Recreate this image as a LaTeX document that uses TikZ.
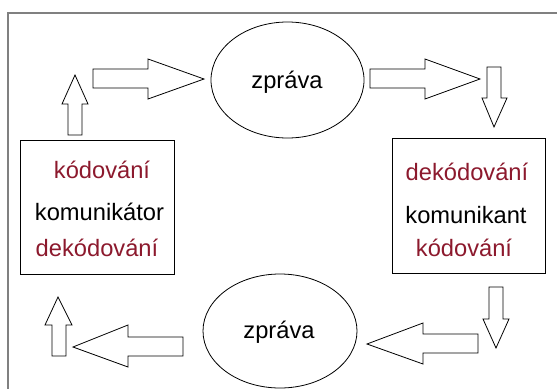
\documentclass[tikz,border=0pt]{standalone}
\usepackage{fontspec}
\setmainfont{Liberation Sans}
\usetikzlibrary{shapes.geometric}
\definecolor{kodred}{RGB}{140,25,45}
\definecolor{framegray}{RGB}{128,128,128}
\begin{document}
\begin{tikzpicture}[x=1pt,y=-1pt,
  font=\fontsize{23.7}{28}\selectfont,
  blockarrow/.style={draw=black,line width=0.8pt,fill=white,line join=miter},
  boxnode/.style={draw=black,line width=0.8pt,rectangle,inner sep=0pt},
  msgnode/.style={draw=black,line width=0.8pt,ellipse,inner sep=0pt},
  lbl/.style={anchor=base,inner sep=0pt,text depth=0pt},
  redlbl/.style={lbl,text=kodred}]
\useasboundingbox (0,0) rectangle (557,389);
\fill[white] (0,0) rectangle (557,389);
% frame
\draw[framegray,line width=1.3pt] (557,13) -- (8,13) -- (8,389);
% boxes
\node[boxnode,minimum width=154pt,minimum height=134pt] (sender) at (97,207) {};
\node[boxnode,minimum width=153pt,minimum height=135pt] (receiver) at (468.5,205.5) {};
% messages
\node[msgnode,minimum width=153pt,minimum height=116pt] (msgtop) at (287.5,80) {};
\node[msgnode,minimum width=154pt,minimum height=114pt] (msgbot) at (280,331) {};
\node[lbl] (msgtoptext) at (287,88) {zpráva};
\node[lbl] (msgbottext) at (279,338) {zpráva};
% sender texts
\node[redlbl] (s1) at (102,178.5) {kódování};
\node[lbl] (s2) at (99.5,220.5) {komunikátor};
\node[redlbl] (s3) at (97,256.5) {dekódování};
% receiver texts
\node[redlbl] (r1) at (467,180.5) {dekódování};
\node[lbl] (r2) at (466,223.5) {komunikant};
\node[redlbl] (r3) at (464,256.5) {kódování};
% arrows
\draw[blockarrow] (93,69) -- (148,69) -- (148,59) -- (204,79) -- (148,99) -- (148,88) -- (93,88) -- cycle;
\draw[blockarrow] (370,69) -- (425,69) -- (425,59) -- (480,79) -- (425,99) -- (425,88) -- (370,88) -- cycle;
\draw[blockarrow] (487,67) -- (501,67) -- (501,98) -- (507,98) -- (494,127) -- (482,98) -- (487,98) -- cycle;
\draw[blockarrow] (489,287) -- (503,287) -- (503,319) -- (509,319) -- (496,348) -- (483,319) -- (489,319) -- cycle;
\draw[blockarrow] (478,334) -- (423,334) -- (423,323) -- (367,344) -- (423,364) -- (423,353) -- (478,353) -- cycle;
\draw[blockarrow] (183,337) -- (128,337) -- (128,325) -- (73,347) -- (128,367) -- (128,356) -- (183,356) -- cycle;
\draw[blockarrow] (52,356) -- (52,325) -- (45,325) -- (58,297) -- (72,325) -- (66,325) -- (66,356) -- cycle;
\draw[blockarrow] (68,135) -- (68,104) -- (62,104) -- (75,75) -- (88,104) -- (82,104) -- (82,135) -- cycle;
\end{tikzpicture}
\end{document}
